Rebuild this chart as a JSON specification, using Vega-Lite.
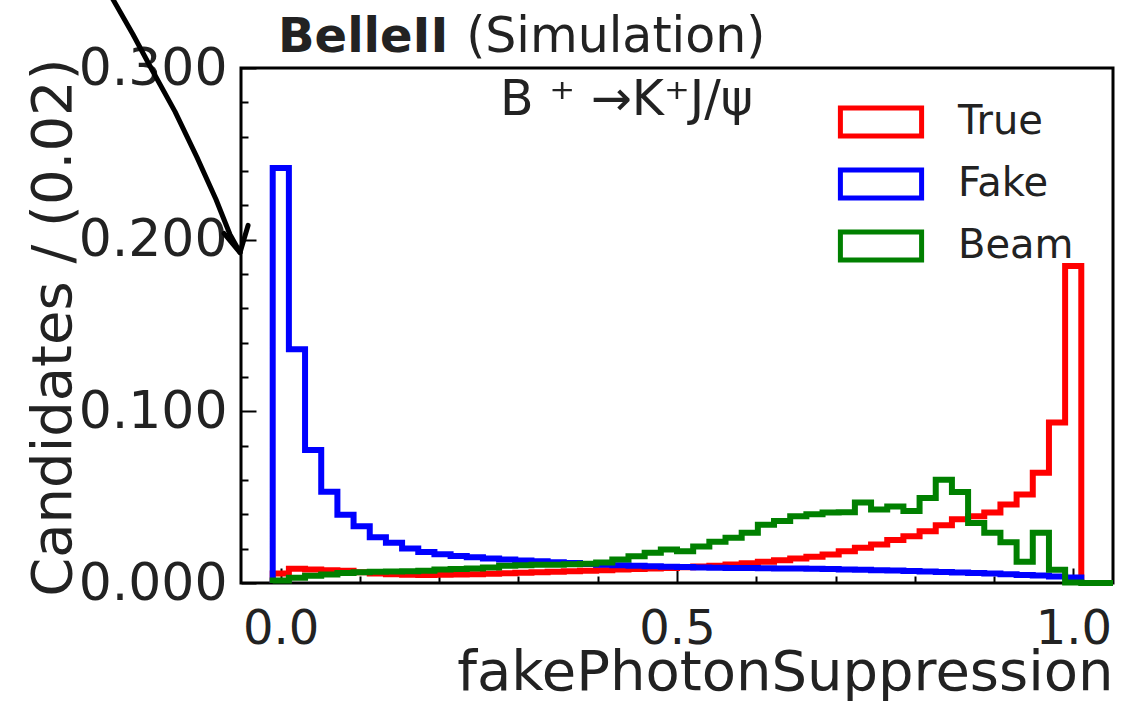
{
  "$schema": "https://vega.github.io/schema/vega-lite/v6.json",
  "width": 872,
  "height": 515,
  "autosize": "none",
  "padding": {"left": 241, "top": 68, "right": 30, "bottom": 118},
  "background": "white",
  "config": {
    "font": "DejaVu Sans",
    "view": {"stroke": "#000000", "strokeWidth": 3}
  },
  "resolve": {"axis": {"x": "independent", "y": "independent"}},
  "datasets": {
    "hist": [
      {"s":"True","i":0,"x":-0.01,"y":0},
      {"s":"True","i":1,"x":-0.01,"y":0.0055},{"s":"True","i":2,"x":0.0104,"y":0.0083},{"s":"True","i":3,"x":0.0308,"y":0.0079},{"s":"True","i":4,"x":0.0512,"y":0.0075},{"s":"True","i":5,"x":0.0716,"y":0.0071},
      {"s":"True","i":6,"x":0.092,"y":0.0063},{"s":"True","i":7,"x":0.1124,"y":0.0056},{"s":"True","i":8,"x":0.1328,"y":0.0051},{"s":"True","i":9,"x":0.1532,"y":0.0048},{"s":"True","i":10,"x":0.1736,"y":0.0047},
      {"s":"True","i":11,"x":0.194,"y":0.0048},{"s":"True","i":12,"x":0.2144,"y":0.0049},{"s":"True","i":13,"x":0.2348,"y":0.0051},{"s":"True","i":14,"x":0.2552,"y":0.0054},{"s":"True","i":15,"x":0.2756,"y":0.0057},
      {"s":"True","i":16,"x":0.296,"y":0.0060},{"s":"True","i":17,"x":0.3164,"y":0.0063},{"s":"True","i":18,"x":0.3368,"y":0.0066},{"s":"True","i":19,"x":0.3572,"y":0.0069},{"s":"True","i":20,"x":0.3776,"y":0.0072},
      {"s":"True","i":21,"x":0.398,"y":0.0075},{"s":"True","i":22,"x":0.4184,"y":0.0078},{"s":"True","i":23,"x":0.4388,"y":0.0081},{"s":"True","i":24,"x":0.4592,"y":0.0085},{"s":"True","i":25,"x":0.4796,"y":0.0088},
      {"s":"True","i":26,"x":0.5,"y":0.0092},{"s":"True","i":27,"x":0.5204,"y":0.0096},{"s":"True","i":28,"x":0.5408,"y":0.0101},{"s":"True","i":29,"x":0.5612,"y":0.0108},{"s":"True","i":30,"x":0.5816,"y":0.0115},
      {"s":"True","i":31,"x":0.602,"y":0.0124},{"s":"True","i":32,"x":0.6224,"y":0.0133},{"s":"True","i":33,"x":0.6428,"y":0.0143},{"s":"True","i":34,"x":0.6632,"y":0.0153},{"s":"True","i":35,"x":0.6836,"y":0.0166},
      {"s":"True","i":36,"x":0.704,"y":0.0185},{"s":"True","i":37,"x":0.7244,"y":0.0205},{"s":"True","i":38,"x":0.7448,"y":0.0225},{"s":"True","i":39,"x":0.7652,"y":0.0250},{"s":"True","i":40,"x":0.7856,"y":0.0272},
      {"s":"True","i":41,"x":0.806,"y":0.0302},{"s":"True","i":42,"x":0.8264,"y":0.0336},{"s":"True","i":43,"x":0.8468,"y":0.0372},{"s":"True","i":44,"x":0.8672,"y":0.0389},{"s":"True","i":45,"x":0.8876,"y":0.0410},
      {"s":"True","i":46,"x":0.908,"y":0.0457},{"s":"True","i":47,"x":0.9284,"y":0.0515},{"s":"True","i":48,"x":0.9488,"y":0.0642},{"s":"True","i":49,"x":0.9692,"y":0.0935},{"s":"True","i":50,"x":0.9896,"y":0.1846},
      {"s":"True","i":51,"x":1.01,"y":0},

      {"s":"Fake","i":0,"x":-0.01,"y":0},
      {"s":"Fake","i":1,"x":-0.01,"y":0.2418},{"s":"Fake","i":2,"x":0.0104,"y":0.1362},{"s":"Fake","i":3,"x":0.0308,"y":0.0775},{"s":"Fake","i":4,"x":0.0512,"y":0.0532},{"s":"Fake","i":5,"x":0.0716,"y":0.0397},
      {"s":"Fake","i":6,"x":0.092,"y":0.0330},{"s":"Fake","i":7,"x":0.1124,"y":0.0266},{"s":"Fake","i":8,"x":0.1328,"y":0.0234},{"s":"Fake","i":9,"x":0.1532,"y":0.0201},{"s":"Fake","i":10,"x":0.1736,"y":0.0180},
      {"s":"Fake","i":11,"x":0.194,"y":0.0168},{"s":"Fake","i":12,"x":0.2144,"y":0.0158},{"s":"Fake","i":13,"x":0.2348,"y":0.0150},{"s":"Fake","i":14,"x":0.2552,"y":0.0143},{"s":"Fake","i":15,"x":0.2756,"y":0.0137},
      {"s":"Fake","i":16,"x":0.296,"y":0.0131},{"s":"Fake","i":17,"x":0.3164,"y":0.0126},{"s":"Fake","i":18,"x":0.3368,"y":0.0121},{"s":"Fake","i":19,"x":0.3572,"y":0.0116},{"s":"Fake","i":20,"x":0.3776,"y":0.0111},
      {"s":"Fake","i":21,"x":0.398,"y":0.0107},{"s":"Fake","i":22,"x":0.4184,"y":0.0103},{"s":"Fake","i":23,"x":0.4388,"y":0.0100},{"s":"Fake","i":24,"x":0.4592,"y":0.0097},{"s":"Fake","i":25,"x":0.4796,"y":0.0095},
      {"s":"Fake","i":26,"x":0.5,"y":0.0093},{"s":"Fake","i":27,"x":0.5204,"y":0.0091},{"s":"Fake","i":28,"x":0.5408,"y":0.0089},{"s":"Fake","i":29,"x":0.5612,"y":0.0088},{"s":"Fake","i":30,"x":0.5816,"y":0.0087},
      {"s":"Fake","i":31,"x":0.602,"y":0.0086},{"s":"Fake","i":32,"x":0.6224,"y":0.0085},{"s":"Fake","i":33,"x":0.6428,"y":0.0084},{"s":"Fake","i":34,"x":0.6632,"y":0.0083},{"s":"Fake","i":35,"x":0.6836,"y":0.0081},
      {"s":"Fake","i":36,"x":0.704,"y":0.0079},{"s":"Fake","i":37,"x":0.7244,"y":0.0077},{"s":"Fake","i":38,"x":0.7448,"y":0.0075},{"s":"Fake","i":39,"x":0.7652,"y":0.0073},{"s":"Fake","i":40,"x":0.7856,"y":0.0070},
      {"s":"Fake","i":41,"x":0.806,"y":0.0067},{"s":"Fake","i":42,"x":0.8264,"y":0.0064},{"s":"Fake","i":43,"x":0.8468,"y":0.0061},{"s":"Fake","i":44,"x":0.8672,"y":0.0058},{"s":"Fake","i":45,"x":0.8876,"y":0.0055},
      {"s":"Fake","i":46,"x":0.908,"y":0.0051},{"s":"Fake","i":47,"x":0.9284,"y":0.0047},{"s":"Fake","i":48,"x":0.9488,"y":0.0043},{"s":"Fake","i":49,"x":0.9692,"y":0.0038},{"s":"Fake","i":50,"x":0.9896,"y":0.0032},
      {"s":"Fake","i":51,"x":1.01,"y":0},

      {"s":"Beam","i":0,"x":-0.01,"y":0},
      {"s":"Beam","i":1,"x":-0.01,"y":0.0015},{"s":"Beam","i":2,"x":0.0104,"y":0.0030},{"s":"Beam","i":3,"x":0.0308,"y":0.0042},{"s":"Beam","i":4,"x":0.0512,"y":0.0050},{"s":"Beam","i":5,"x":0.0716,"y":0.0058},
      {"s":"Beam","i":6,"x":0.092,"y":0.0062},{"s":"Beam","i":7,"x":0.1124,"y":0.0065},{"s":"Beam","i":8,"x":0.1328,"y":0.0067},{"s":"Beam","i":9,"x":0.1532,"y":0.0069},{"s":"Beam","i":10,"x":0.1736,"y":0.0072},
      {"s":"Beam","i":11,"x":0.194,"y":0.0078},{"s":"Beam","i":12,"x":0.2144,"y":0.0082},{"s":"Beam","i":13,"x":0.2348,"y":0.0085},{"s":"Beam","i":14,"x":0.2552,"y":0.0090},{"s":"Beam","i":15,"x":0.2756,"y":0.0100},
      {"s":"Beam","i":16,"x":0.296,"y":0.0104},{"s":"Beam","i":17,"x":0.3164,"y":0.0106},{"s":"Beam","i":18,"x":0.3368,"y":0.0107},{"s":"Beam","i":19,"x":0.3572,"y":0.0109},{"s":"Beam","i":20,"x":0.3776,"y":0.0112},
      {"s":"Beam","i":21,"x":0.398,"y":0.0120},{"s":"Beam","i":22,"x":0.4184,"y":0.0137},{"s":"Beam","i":23,"x":0.4388,"y":0.0156},{"s":"Beam","i":24,"x":0.4592,"y":0.0176},{"s":"Beam","i":25,"x":0.4796,"y":0.0195},
      {"s":"Beam","i":26,"x":0.5,"y":0.0185},{"s":"Beam","i":27,"x":0.5204,"y":0.0213},{"s":"Beam","i":28,"x":0.5408,"y":0.0241},{"s":"Beam","i":29,"x":0.5612,"y":0.0263},{"s":"Beam","i":30,"x":0.5816,"y":0.0292},
      {"s":"Beam","i":31,"x":0.602,"y":0.0339},{"s":"Beam","i":32,"x":0.6224,"y":0.0361},{"s":"Beam","i":33,"x":0.6428,"y":0.0389},{"s":"Beam","i":34,"x":0.6632,"y":0.0400},{"s":"Beam","i":35,"x":0.6836,"y":0.0410},
      {"s":"Beam","i":36,"x":0.704,"y":0.0412},{"s":"Beam","i":37,"x":0.7244,"y":0.0469},{"s":"Beam","i":38,"x":0.7448,"y":0.0428},{"s":"Beam","i":39,"x":0.7652,"y":0.0446},{"s":"Beam","i":40,"x":0.7856,"y":0.0420},
      {"s":"Beam","i":41,"x":0.806,"y":0.0495},{"s":"Beam","i":42,"x":0.8264,"y":0.0601},{"s":"Beam","i":43,"x":0.8468,"y":0.0530},{"s":"Beam","i":44,"x":0.8672,"y":0.0350},{"s":"Beam","i":45,"x":0.8876,"y":0.0293},
      {"s":"Beam","i":46,"x":0.908,"y":0.0238},{"s":"Beam","i":47,"x":0.9284,"y":0.0124},{"s":"Beam","i":48,"x":0.9488,"y":0.0293},{"s":"Beam","i":49,"x":0.9692,"y":0.0077},{"s":"Beam","i":50,"x":0.9896,"y":0.0003},
      {"s":"Beam","i":51,"x":1.01,"y":0},{"s":"Beam","i":52,"x":1.05,"y":0}
    ],
    "arrow": [
      {"part":"curve","i":0,"x":-0.215,"y":0.3428},
      {"part":"curve","i":1,"x":-0.1862,"y":0.3195},
      {"part":"curve","i":2,"x":-0.1625,"y":0.2991},
      {"part":"curve","i":3,"x":-0.1332,"y":0.2746},
      {"part":"curve","i":4,"x":-0.1055,"y":0.2479},
      {"part":"curve","i":5,"x":-0.0815,"y":0.2234},
      {"part":"curve","i":6,"x":-0.0639,"y":0.2030},
      {"part":"curve","i":7,"x":-0.0512,"y":0.1925},
      {"part":"head","i":0,"x":-0.0714,"y":0.2036},
      {"part":"head","i":1,"x":-0.0512,"y":0.1925},
      {"part":"head","i":2,"x":-0.0411,"y":0.2083}
    ]
  },
  "layer": [
    {
      "data": {"name": "hist"},
      "mark": {"type": "line", "interpolate": "step-after", "strokeWidth": 6, "strokeJoin": "miter", "strokeCap": "butt"},
      "encoding": {
        "x": {
          "field": "x", "type": "quantitative",
          "scale": {"domain": [-0.05, 1.05], "nice": false, "zero": false},
          "axis": {
            "orient": "bottom", "values": [0, 0.5, 1], "format": ".1f",
            "tickSize": -15, "tickWidth": 2, "tickColor": "#000000",
            "domain": false, "grid": false,
            "labelFontSize": 48, "labelColor": "#222222", "labelPadding": 37,
            "labelFlush": false, "labelOverlap": false,
            "title": "fakePhotonSuppression", "titleFontSize": 56, "titleFontWeight": "normal",
            "titleColor": "#222222", "titleAnchor": "end", "titlePadding": -8
          }
        },
        "y": {
          "field": "y", "type": "quantitative",
          "scale": {"domain": [0, 0.3], "nice": false, "zero": false},
          "axis": {
            "orient": "left", "values": [0, 0.1, 0.2, 0.3], "format": ".3f",
            "tickSize": -15, "tickWidth": 2, "tickColor": "#000000",
            "domain": false, "grid": false,
            "labelFontSize": 52, "labelColor": "#222222", "labelPadding": 29,
            "labelFlush": false, "labelOverlap": false,
            "title": "Candidates / (0.02)", "titleFontSize": 56, "titleFontWeight": "normal",
            "titleColor": "#222222", "titleAnchor": "end", "titlePadding": -4, "titleY": -10
          }
        },
        "color": {
          "field": "s", "type": "nominal",
          "scale": {"domain": ["True", "Fake", "Beam"], "range": ["#ff0000", "#0000ff", "#008000"]},
          "legend": {
            "title": null, "orient": "none", "legendX": 620, "legendY": 34,
            "padding": 0,
            "symbolType": "M-2.9,-1L2.9,-1L2.9,1L-2.9,1Z", "symbolSize": 784,
            "symbolStrokeWidth": 5, "symbolFillColor": "transparent",
            "labelFontSize": 40, "labelColor": "#222222", "labelOffset": 57,
            "rowPadding": 14
          }
        },
        "order": {"field": "i", "type": "quantitative"}
      }
    },
    {
      "data": {"name": "arrow"},
      "mark": {"type": "line", "color": "#000000", "strokeWidth": 5, "clip": false, "strokeCap": "round", "strokeJoin": "round"},
      "encoding": {
        "x": {
          "field": "x", "type": "quantitative",
          "axis": {
            "orient": "bottom", "values": [0.1, 0.2, 0.3, 0.4, 0.6, 0.7, 0.8, 0.9],
            "labels": false, "tickSize": -7, "tickWidth": 2, "tickColor": "#000000",
            "domain": false, "grid": false, "title": null
          }
        },
        "y": {
          "field": "y", "type": "quantitative",
          "axis": {
            "orient": "left",
            "values": [0.02, 0.04, 0.06, 0.08, 0.12, 0.14, 0.16, 0.18, 0.22, 0.24, 0.26, 0.28],
            "labels": false, "tickSize": -7, "tickWidth": 2, "tickColor": "#000000",
            "domain": false, "grid": false, "title": null
          }
        },
        "detail": {"field": "part", "type": "nominal"},
        "order": {"field": "i", "type": "quantitative"}
      }
    },
    {
      "data": {"values": [{}]},
      "mark": {"type": "text", "align": "left", "baseline": "alphabetic", "fontSize": 48, "fontWeight": "bold", "color": "#222222"},
      "encoding": {
        "x": {"datum": -0.0033, "type": "quantitative", "axis": null},
        "y": {"datum": 0.3096, "type": "quantitative", "axis": null},
        "text": {"value": "BelleII"}
      }
    },
    {
      "data": {"values": [{}]},
      "mark": {"type": "text", "align": "left", "baseline": "alphabetic", "fontSize": 49, "fontWeight": "normal", "color": "#222222"},
      "encoding": {
        "x": {"datum": 0.234, "type": "quantitative", "axis": null},
        "y": {"datum": 0.3096, "type": "quantitative", "axis": null},
        "text": {"value": "(Simulation)"}
      }
    },
    {
      "data": {"values": [{}]},
      "mark": {"type": "text", "align": "left", "baseline": "alphabetic", "fontSize": 49, "fontWeight": "normal", "color": "#222222"},
      "encoding": {
        "x": {"datum": 0.2768, "type": "quantitative", "axis": null},
        "y": {"datum": 0.2729, "type": "quantitative", "axis": null},
        "text": {"value": "B ⁺ →K⁺J/ψ"}
      }
    }
  ]
}
